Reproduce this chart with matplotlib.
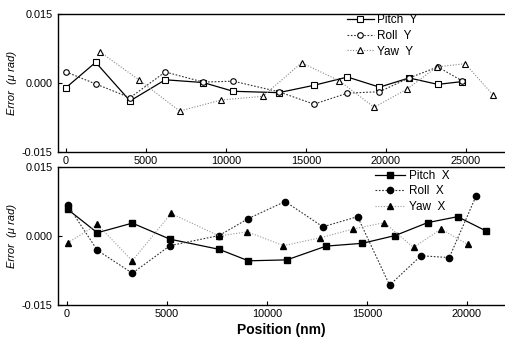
import matplotlib
matplotlib.use("Agg")
import matplotlib.pyplot as plt
from matplotlib.ticker import FormatStrFormatter

plt.rcParams['font.family'] = ['Liberation Sans', 'DejaVu Sans']

# top panel (Y errors)
pos_pr_y = [0, 1850, 4000, 6200, 8580, 10450, 13300, 15500, 17600, 19600, 21450, 23250, 24750]
pitch_y = [-0.0010, 0.0045, -0.0039, 0.0007, 0.0001, -0.0018, -0.0021, -0.0005, 0.0013, -0.0009, 0.0011, -0.0003, 0.0003]
roll_y = [0.0024, -0.0002, -0.0032, 0.0024, 0.0002, 0.0004, -0.0019, -0.0046, -0.0022, -0.0019, 0.0011, 0.0035, 0.0005]
pos_yaw_y = [2150, 4550, 7100, 9700, 12300, 14730, 17080, 19270, 21330, 23200, 24960, 26700]
yaw_y = [0.0067, 0.0007, -0.0061, -0.0037, -0.0029, 0.0044, 0.0005, -0.0053, -0.0013, 0.0035, 0.0042, -0.0026]

# bottom panel (X errors)
pos_pitch_x = [50, 1530, 3280, 5165, 7615, 9080, 11000, 12965, 14765, 16415, 18030, 19530, 20950]
pitch_x = [0.0058, 0.0007, 0.0028, -0.0007, -0.0029, -0.0054, -0.0052, -0.0022, -0.0016, 0.0001, 0.0029, 0.0042, 0.0011]
pos_roll_x = [50, 1530, 3280, 5165, 7615, 9080, 10915, 12800, 14535, 16135, 17700, 19115, 20465]
roll_x = [0.0067, -0.0031, -0.0081, -0.0021, 0.0001, 0.0038, 0.0075, 0.0020, 0.0042, -0.0107, -0.0043, -0.0047, 0.0088]
pos_yaw_x = [50, 1530, 3280, 5215, 7615, 9030, 10830, 12665, 14300, 15865, 17330, 18700, 20030]
yaw_x = [-0.0015, 0.0025, -0.0054, 0.0049, 0.0000, 0.0009, -0.0021, -0.0004, 0.0015, 0.0029, -0.0025, 0.0015, -0.0018]

fig = plt.figure(figsize=(5.05, 3.43), dpi=100)
ax1 = fig.add_axes([0.115, 0.557, 0.885, 0.402])
ax2 = fig.add_axes([0.115, 0.111, 0.885, 0.402])

# top: open markers
ax1.plot(pos_pr_y, pitch_y, '-', color='black', lw=0.9, marker='s', ms=4,
         mfc='white', mec='black', mew=0.8, label='Pitch  Y')
ax1.plot(pos_pr_y, roll_y, color='#333333', lw=0.8, ls=(0, (1.5, 1.5)), marker='o', ms=4,
         mfc='white', mec='black', mew=0.8, label='Roll  Y')
ax1.plot(pos_yaw_y, yaw_y, color='#888888', lw=0.8, ls=(0, (1, 1.5)), marker='^', ms=4.5,
         mfc='white', mec='black', mew=0.8, label='Yaw  Y')
ax1.set_xlim(-500, 27450)
ax1.set_xticks([0, 5000, 10000, 15000, 20000, 25000])

# bottom: filled markers
ax2.plot(pos_pitch_x, pitch_x, '-', color='black', lw=0.9, marker='s', ms=4,
         mfc='black', mec='black', label='Pitch  X')
ax2.plot(pos_roll_x, roll_x, color='#333333', lw=0.8, ls=(0, (1.5, 1.5)), marker='o', ms=4.5,
         mfc='black', mec='black', label='Roll  X')
ax2.plot(pos_yaw_x, yaw_x, color='#999999', lw=0.8, ls=(0, (1, 1.5)), marker='^', ms=5,
         mfc='black', mec='black', label='Yaw  X')
ax2.set_xlim(-430, 21900)
ax2.set_xticks([0, 5000, 10000, 15000, 20000])
ax2.set_xlabel('Position (nm)', fontsize=10, fontweight='bold', labelpad=3)

for ax in (ax1, ax2):
    ax.set_ylim(-0.015, 0.015)
    ax.set_yticks([-0.015, 0.0, 0.015])
    ax.yaxis.set_major_formatter(FormatStrFormatter('%.3f'))
    ax.tick_params(direction='in', length=3, width=0.8, labelsize=7.8, pad=3)
    ax.tick_params(axis='y', pad=4)
    ax.spines['right'].set_visible(False)
    for s in ('left', 'top', 'bottom'):
        ax.spines[s].set_linewidth(1.0)
    ax.set_ylabel('Error  (\u03bc rad)', fontsize=8, style='italic', labelpad=3)

ax1.legend(loc='upper left', bbox_to_anchor=(0.675, 0.975), bbox_transform=fig.transFigure,
           frameon=False, fontsize=8.5, handlelength=2.3, handletextpad=0.3,
           labelspacing=0.3, borderpad=0)
ax2.legend(loc='upper left', bbox_to_anchor=(0.73, 0.522), bbox_transform=fig.transFigure,
           frameon=False, fontsize=8.5, handlelength=2.6, handletextpad=0.3,
           labelspacing=0.3, borderpad=0)

fig.savefig('out.png', dpi=100)
